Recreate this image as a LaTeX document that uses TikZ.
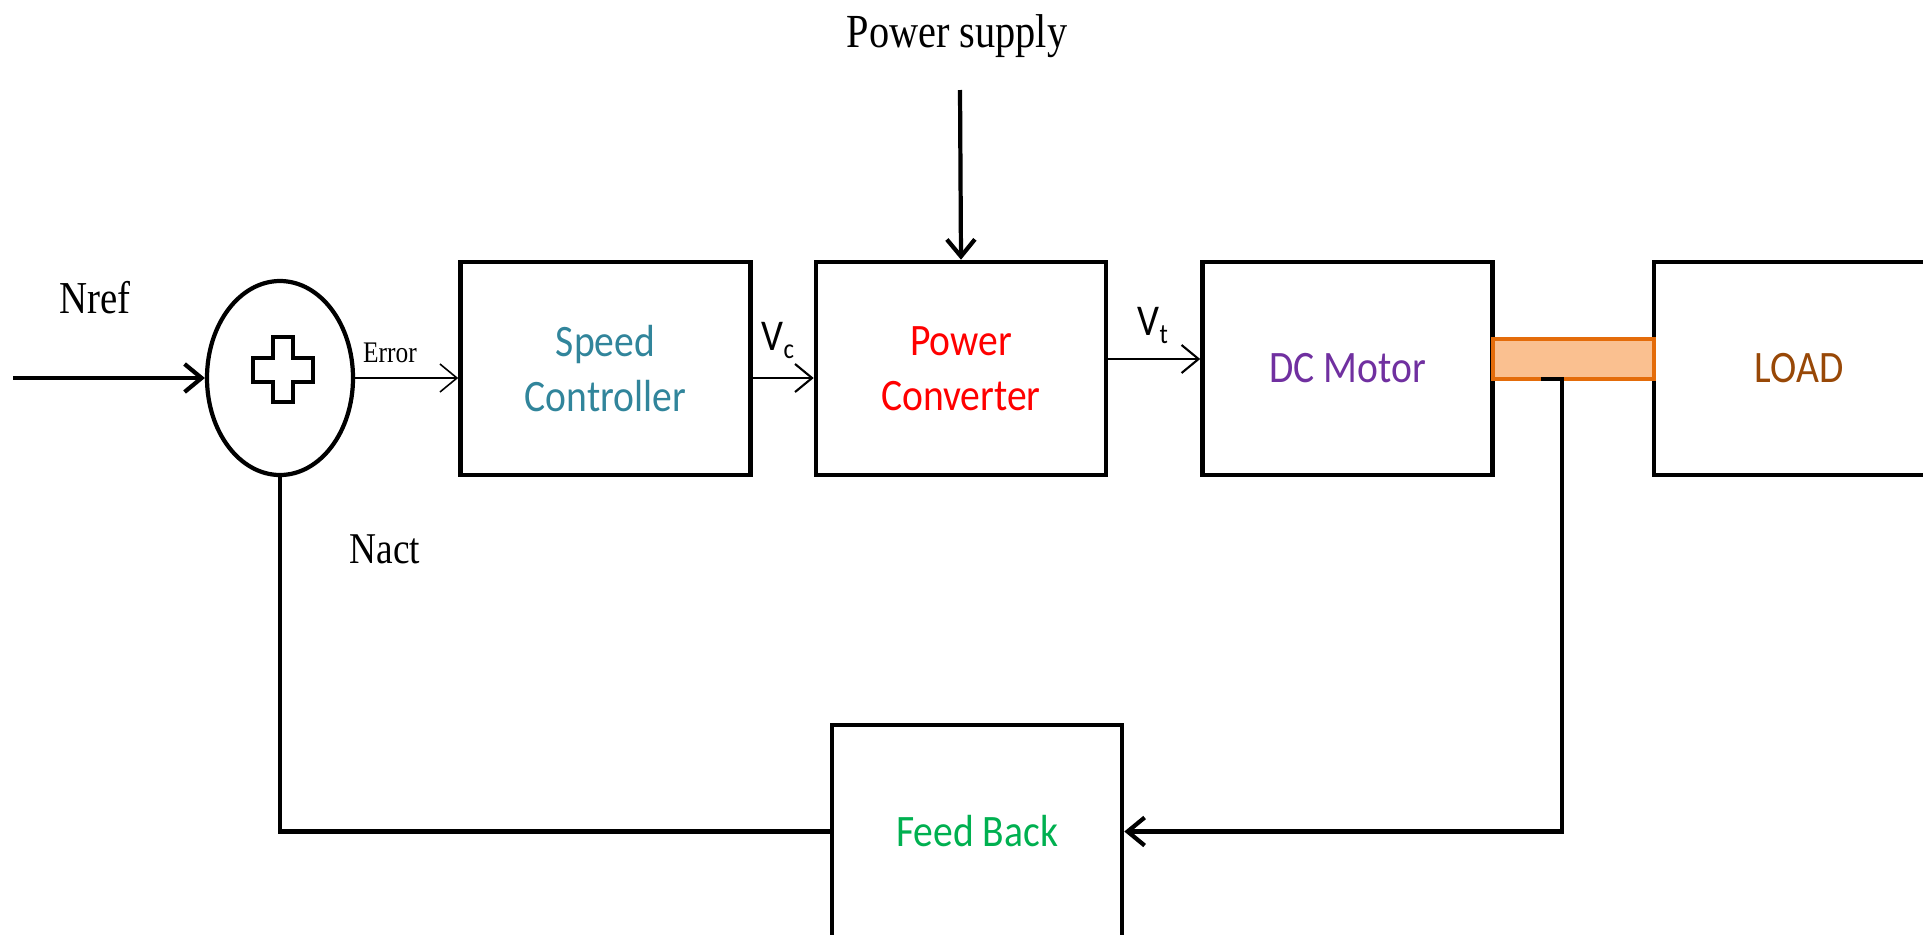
\documentclass[tikz,border=0pt]{standalone}
\usepackage{fontspec}
\setmainfont{Liberation Serif}[FakeStretch=0.85]
\newfontfamily\boxfont{Carlito}[FakeStretch=0.88]
\usepackage{tikz}
\usetikzlibrary{shapes.geometric,arrows.meta,positioning}
\definecolor{myteal}{RGB}{49,133,155}
\definecolor{mypurple}{RGB}{112,48,160}
\definecolor{mybrown}{RGB}{152,72,7}
\definecolor{mygreen}{RGB}{0,176,80}
\definecolor{myorange}{RGB}{228,108,10}
\definecolor{mypeach}{RGB}{250,192,144}
\newcommand{\lowsub}[1]{\raisebox{-2.5pt}{\fontsize{8}{8}\selectfont #1}}

\begin{document}
\begin{tikzpicture}[
  >={Straight Barb[length=1.7mm,width=2.8mm]},
  block/.style={
    draw,
    line width=1.3pt,
    minimum width=2.9cm,
    minimum height=2.13cm,
    inner sep=0pt,
    align=center,
    font=\boxfont\fontsize{12.8}{15.6}\selectfont
    },
  conn/.style={line width=1.2pt},
  sig/.style={line width=0.6pt},
  mylabel/.style={inner sep=0pt, anchor=base}
]
\useasboundingbox (0,0) rectangle (19.23,9.34);

% summing point
\node[ellipse, draw, line width=1.2pt, minimum width=1.46cm, minimum height=1.94cm, inner sep=0pt]
  (sum) at (2.80,5.56) {};
\draw[line width=0.9pt, shift={(sum.center)}]
  (-0.07,0.41) -- (0.13,0.41) -- (0.13,0.20) -- (0.33,0.20) -- (0.33,-0.04) -- (0.13,-0.04)
  -- (0.13,-0.24) -- (-0.07,-0.24) -- (-0.07,-0.04) -- (-0.27,-0.04) -- (-0.27,0.20) -- (-0.07,0.20) -- cycle;

% blocks
\node[block, text=myteal] (speed) at (6.055,5.655) {Speed\\Controller};
\node[block, text=red] (conv) at (9.61,5.655) {Power\\Converter};
\node[block, text=mypurple] (motor) at (13.475,5.655) {DC Motor};
\node[block, text=mybrown] (load) at (17.99,5.655) {LOAD};
\node[draw=myorange, fill=mypeach, line width=0.9pt, minimum width=1.61cm, minimum height=0.40cm, inner sep=0pt]
  (shaft) at (15.735,5.75) {};
\node[block, text=mygreen] (fb) at (9.77,1.025) {Feed Back};

% labels
\node[mylabel, font=\fontsize{13}{13}\selectfont] (nref) at (0.95,6.21) {Nref};
\node[mylabel, font=\fontsize{13.5}{13.5}\selectfont] (supply) at (9.57,8.87) {Power supply};
\node[mylabel, font=\fontsize{12.5}{12.5}\selectfont] (nact) at (3.85,3.71) {Nact};
\node[mylabel, font=\fontsize{8.5}{8.5}\selectfont] (error) at (3.90,5.72) {Error};
\node[mylabel, anchor=base west, font=\boxfont\fontsize{12.5}{12.5}\selectfont] (vc) at (7.61,5.84) {V\lowsub{c}};
\node[mylabel, anchor=base west, font=\boxfont\fontsize{12.5}{12.5}\selectfont] (vt) at (11.37,5.99) {V\lowsub{t}};

% connectors
\coordinate (in) at (0.13,5.56);
\coordinate (ps) at (9.60,8.44);
\coordinate (tap) at (15.41,5.55);
\draw[conn,->] (in) -- (sum.west);
\draw[conn,->] (ps) -- (conv.north);
\draw[line width=0.45pt,->] (sum.east) -- (speed.west |- sum.east);
\draw[sig,->] (speed.east |- sum.east) -- (conv.west |- sum.east);
\draw[sig,->] (conv.east |- shaft.center) -- (motor.west |- shaft.center);
\draw[conn,->] (tap) -- ++(0.21,0) |- (fb.east);
\draw[conn] (fb.west) -| (sum.south);

\end{tikzpicture}
\end{document}
